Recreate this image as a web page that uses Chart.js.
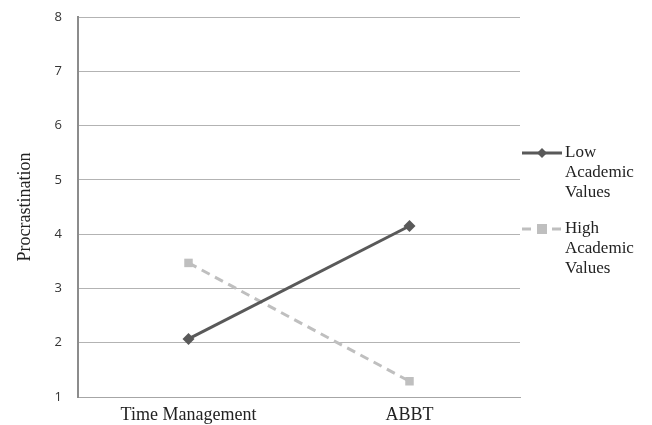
<!DOCTYPE html>
<html><head><meta charset="utf-8">
<script src="https://cdn.jsdelivr.net/npm/chart.js@4/dist/chart.umd.min.js"></script>
<style>html,body{margin:0;padding:0;background:#fff}#wrap{width:652px;height:425px}</style>
</head><body><div id="wrap"><canvas id="c" width="652" height="425"></canvas></div>
<script>
const categories = ["Time Management", "ABBT"];
const lowValues = [2.07, 4.15];
const highValues = [3.47, 1.29];
const seriesNames = [["Low", "Academic", "Values"], ["High", "Academic", "Values"]];
const yTicks = [1, 2, 3, 4, 5, 6, 7, 8];

const legendPlugin = {
  id: 'wrapLegend',
  afterDraw(chart) {
    const ctx = chart.ctx;
    const x0 = 522, x1 = 562, tx = 565;
    const tops = [153, 229];
    chart.data.datasets.forEach((ds, i) => {
      const cy = tops[i];
      ctx.save();
      ctx.strokeStyle = ds.borderColor;
      ctx.lineWidth = ds.borderWidth;
      ctx.setLineDash(ds.borderDash || []);
      ctx.beginPath(); ctx.moveTo(x0, cy); ctx.lineTo(x1, cy); ctx.stroke();
      ctx.setLineDash([]);
      ctx.fillStyle = ds.pointBackgroundColor;
      const mx = (x0 + x1) / 2;
      if (ds.pointStyle === 'rectRot') {
        ctx.beginPath(); ctx.moveTo(mx, cy - 5); ctx.lineTo(mx + 5, cy); ctx.lineTo(mx, cy + 5); ctx.lineTo(mx - 5, cy); ctx.closePath(); ctx.fill();
      } else {
        ctx.fillRect(mx - 5, cy - 5, 10, 10);
      }
      ctx.fillStyle = '#222';
      ctx.font = '17px "Liberation Serif"';
      ctx.textBaseline = 'middle';
      ctx.textAlign = 'left';
      seriesNames[i].forEach((t, k) => ctx.fillText(t, tx, cy + k * 20));
      ctx.restore();
    });
  }
};

new Chart(document.getElementById('c'), {
  type: 'line',
  data: {
    labels: categories,
    datasets: [
      { label: seriesNames[0].join(' '), data: lowValues, borderColor: '#595959', backgroundColor: '#595959',
        pointBackgroundColor: '#595959', pointBorderColor: '#595959', borderWidth: 3, pointStyle: 'rectRot', pointRadius: 6, pointBorderWidth: 0 },
      { label: seriesNames[1].join(' '), data: highValues, borderColor: '#bfbfbf', backgroundColor: '#bfbfbf',
        pointBackgroundColor: '#bfbfbf', pointBorderColor: '#bfbfbf', borderWidth: 3, borderDash: [9, 6], pointStyle: 'rect', pointRadius: 6, pointBorderWidth: 0 }
    ]
  },
  options: {
    responsive: false, animation: false,
    layout: { padding: { left: 0, right: 132, top: 17, bottom: 0 } },
    plugins: { legend: { display: false }, tooltip: { enabled: false } },
    scales: {
      x: { offset: true, grid: { display: false, drawTicks: false }, border: { color: '#a6a6a6', width: 1 },
        afterFit: (s) => { s.height = 28; s.paddingLeft = 0; s.paddingRight = 0; },
        ticks: { color: '#222', font: { family: '"Liberation Serif"', size: 18, lineHeight: 1 }, padding: 9, maxRotation: 0 } },
      y: { min: 1, max: 8, afterBuildTicks: (s) => { s.ticks = yTicks.map(v => ({ value: v })); },
        afterFit: (s) => { s.width = 78; s.paddingTop = 0; s.paddingBottom = 0; },
        grid: { color: '#b3b3b3', drawTicks: false }, border: { color: '#8c8c8c', width: 2 },
        ticks: { color: '#333', font: { family: '"Open Sans"', size: 13 }, padding: 16 },
        title: { display: true, text: 'Procrastination', color: '#222', font: { family: '"Liberation Serif"', size: 18 }, padding: { top: 14, bottom: 0 } } }
    }
  },
  plugins: [legendPlugin]
});
</script></body></html>
